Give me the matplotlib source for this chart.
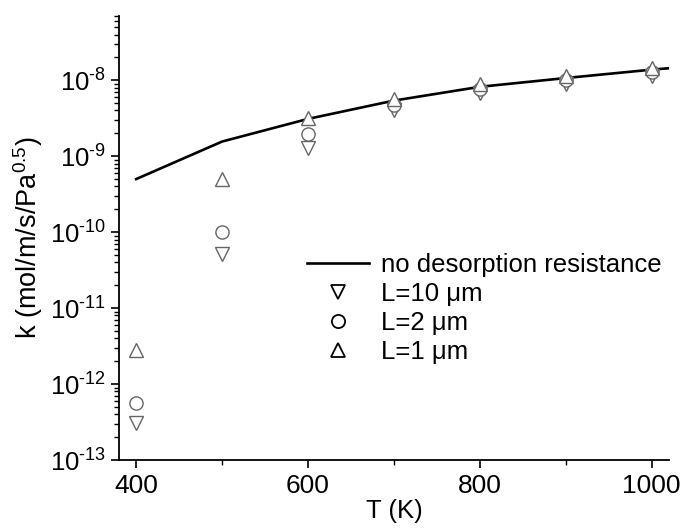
import matplotlib
matplotlib.use("Agg")
import matplotlib.pyplot as plt
from matplotlib.ticker import LogLocator, MultipleLocator, FuncFormatter
from matplotlib.lines import Line2D
import numpy as np

plt.rcParams['font.family'] = ['Liberation Sans', 'DejaVu Sans']
plt.rcParams['mathtext.fontset'] = 'custom'
plt.rcParams['mathtext.rm'] = 'Liberation Sans'
plt.rcParams['mathtext.it'] = 'Liberation Sans:italic'

# model curve without desorption resistance
T_line = [400, 500, 600, 700, 800, 900, 1000, 1020]
k_line = [5.0e-10, 1.56e-9, 3.1e-9, 5.4e-9, 8.2e-9, 1.07e-8, 1.38e-8, 1.44e-8]

# simulated points for three membrane thicknesses
T_pts = [400, 500, 600, 700, 800, 900, 1000]
k_L10 = [3.1e-13, 5.1e-11, 1.28e-9, 4.1e-9, 6.7e-9, 8.8e-9, 1.13e-8]
k_L2 = [5.6e-13, 1.0e-10, 1.96e-9, 4.7e-9, 7.6e-9, 1.0e-8, 1.3e-8]
k_L1 = [2.8e-12, 5.0e-10, 3.2e-9, 5.7e-9, 8.8e-9, 1.13e-8, 1.46e-8]

fs = 18.5

fig = plt.figure(figsize=(6.89, 5.31), dpi=100)
ax = fig.add_axes([0.1727, 0.1337, 0.798, 0.836])

ax.plot(T_line, k_line, color='black', lw=1.9, zorder=2)
gray = '#666666'
ax.plot(T_pts, k_L10, ls='none', marker='v', ms=10, mfc='white', mec=gray, mew=1.0, zorder=3)
ax.plot(T_pts, k_L2, ls='none', marker='o', ms=9.5, mfc='white', mec=gray, mew=1.0, zorder=4)
ax.plot(T_pts, k_L1, ls='none', marker='^', ms=10.5, mfc='white', mec=gray, mew=1.0, zorder=5)

ax.set_yscale('log')
ax.set_xlim(380, 1020)
ax.set_ylim(1e-13, 7e-8)
ax.xaxis.set_major_locator(MultipleLocator(200))
ax.xaxis.set_minor_locator(MultipleLocator(100))
ax.yaxis.set_major_locator(LogLocator(base=10, numticks=20))
ax.yaxis.set_minor_locator(LogLocator(base=10, subs=range(2, 10), numticks=20))
ax.yaxis.set_major_formatter(FuncFormatter(
    lambda v, p: r'$10^{\text{-}%d}$' % int(round(-np.log10(v)))))

for s in ['top', 'right']:
    ax.spines[s].set_visible(False)
for s in ['left', 'bottom']:
    ax.spines[s].set_linewidth(1.3)

ax.tick_params(which='major', direction='out', length=6, width=1.2, labelsize=fs)
ax.tick_params(axis='x', which='major', pad=4, labelsize=19)
ax.tick_params(which='minor', direction='out', length=3.5, width=1.0)

ax.set_xlabel('T (K)', fontsize=fs, labelpad=1)
ax.set_ylabel('k (mol/m/s/Pa$^{0.5}$)', fontsize=19.5, labelpad=3)

handles = [
    Line2D([], [], color='black', lw=1.9),
    Line2D([], [], ls='none', marker='v', ms=10, mfc='white', mec='black', mew=1.3),
    Line2D([], [], ls='none', marker='o', ms=9.5, mfc='white', mec='black', mew=1.3),
    Line2D([], [], ls='none', marker='^', ms=10.5, mfc='white', mec='black', mew=1.3),
]
labels = ['no desorption resistance', 'L=10 μm', 'L=2 μm', 'L=1 μm']
ax.legend(handles, labels, frameon=False, fontsize=fs, loc='upper left',
          bbox_to_anchor=(0.323, 0.49), handlelength=2.4, handletextpad=0.5,
          labelspacing=0.2, borderaxespad=0)

fig.savefig('out.png', dpi=100)
